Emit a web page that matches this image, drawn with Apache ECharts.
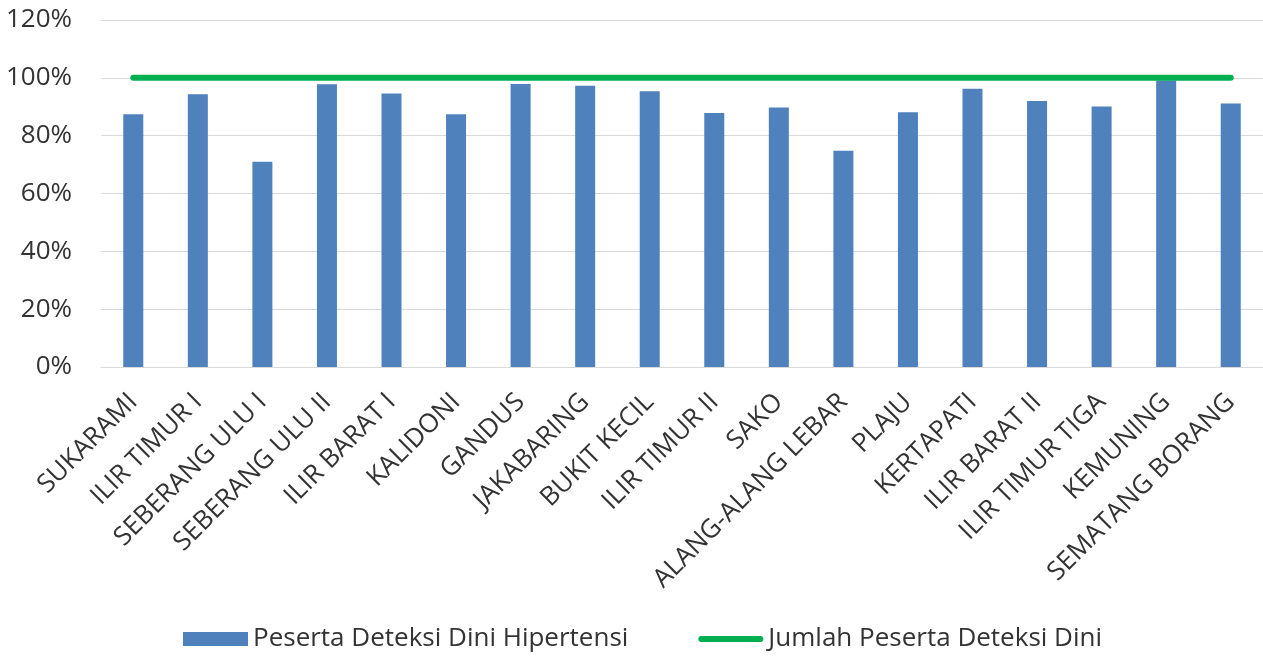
<!DOCTYPE html>
<html>
<head>
<meta charset="utf-8">
<script src="https://cdn.jsdelivr.net/npm/echarts@6/dist/echarts.min.js"></script>
<style>
  html, body { margin: 0; padding: 0; background: #ffffff; }
  #chart { width: 1263px; height: 659px; }
</style>
</head>
<body>
<div id="chart"></div>
<script>
// Kecamatan (districts)
const categories = [
  'SUKARAMI', 'ILIR TIMUR I', 'SEBERANG ULU I', 'SEBERANG ULU II', 'ILIR BARAT I',
  'KALIDONI', 'GANDUS', 'JAKABARING', 'BUKIT KECIL', 'ILIR TIMUR II', 'SAKO',
  'ALANG-ALANG LEBAR', 'PLAJU', 'KERTAPATI', 'ILIR BARAT II', 'ILIR TIMUR TIGA',
  'KEMUNING', 'SEMATANG BORANG'
];

// Share of participants screened for hypertension (%)
const pesertaHipertensi = [
  87.4, 94.3, 71.0, 97.8, 94.6, 87.4, 97.9, 97.3, 95.4,
  87.8, 89.7, 74.8, 88.1, 96.2, 92.0, 90.1, 99.1, 91.1
];

// Total early-detection participants (%)
const jumlahPeserta = [
  100, 100, 100, 100, 100, 100, 100, 100, 100,
  100, 100, 100, 100, 100, 100, 100, 100, 100
];

const seriesNames = ['Peserta Deteksi Dini Hipertensi', 'Jumlah Peserta Deteksi Dini'];

const yMin = 0, yMax = 120, yStep = 20;

const FONT = '"Open Sans", "Noto Sans", sans-serif';
const TEXT = '#333333';
const GRIDLINE = '#d9d9d9';
const BLUE = '#4f81bd';
const GREEN = '#00b050';

// thin pill used as the legend marker for the line series
const LINE_ICON = 'path://M3,0 H62 A3,3 0 0 1 62,6 H3 A3,3 0 0 1 3,0 Z';

const chart = echarts.init(document.getElementById('chart'), null, { renderer: 'canvas' });

chart.setOption({
  animation: false,
  backgroundColor: '#ffffff',
  textStyle: { fontFamily: FONT },
  grid: { left: 101, right: -3, top: 20, bottom: 292, containLabel: false },
  legend: {
    top: 626,
    left: 183,
    padding: 0,
    itemGap: 70,
    itemWidth: 65,
    itemHeight: 14,
    textStyle: { fontFamily: FONT, fontSize: 26, color: TEXT },
    data: [
      { name: seriesNames[0], icon: 'rect', itemStyle: { color: BLUE } },
      { name: seriesNames[1], icon: LINE_ICON, itemStyle: { color: GREEN } }
    ]
  },
  xAxis: {
    type: 'category',
    data: categories,
    axisLine: { lineStyle: { color: GRIDLINE, width: 1 } },
    axisTick: { show: false },
    axisLabel: {
      interval: 0,
      rotate: 45,
      margin: 31,
      fontFamily: FONT,
      fontSize: 26,
      color: TEXT
    }
  },
  yAxis: {
    type: 'value',
    min: yMin,
    max: yMax,
    interval: yStep,
    axisLine: { show: false },
    axisTick: { show: false },
    splitLine: { lineStyle: { color: GRIDLINE, width: 1 } },
    axisLabel: {
      formatter: '{value}%',
      margin: 29,
      fontFamily: FONT,
      fontSize: 26,
      color: TEXT
    }
  },
  series: [
    {
      name: seriesNames[0],
      type: 'bar',
      data: pesertaHipertensi,
      barWidth: '31%',
      itemStyle: { color: BLUE }
    },
    {
      name: seriesNames[1],
      type: 'line',
      data: jumlahPeserta,
      symbol: 'none',
      lineStyle: { color: GREEN, width: 6, cap: 'round' },
      itemStyle: { color: GREEN }
    }
  ]
});
</script>
</body>
</html>
